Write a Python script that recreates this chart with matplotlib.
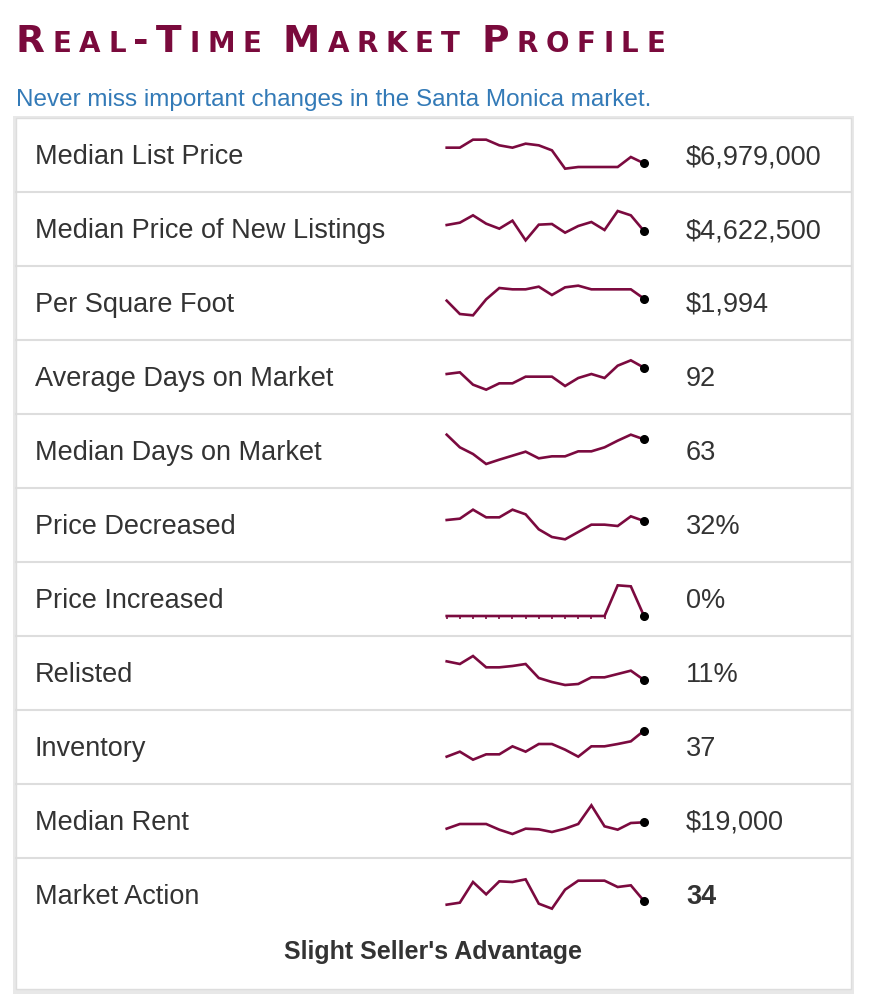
import matplotlib
matplotlib.use("Agg")
import matplotlib.pyplot as plt
from matplotlib.patches import Rectangle

labels = ["Median List Price", "Median Price of New Listings", "Per Square Foot",
          "Average Days on Market", "Median Days on Market", "Price Decreased",
          "Price Increased", "Relisted", "Inventory", "Median Rent", "Market Action"]
values_text = ["$6,979,000", "$4,622,500", "$1,994", "92", "63", "32%", "0%",
               "11%", "37", "$19,000", "34"]
series = [
    [73,73,97,97,80,73,85,80,65,10,15,15,15,15,45,26],
    [63,70,92,67,52,76,17,64,66,40,60,72,48,105,92,45],
    [58,18,14,62,96,92,92,100,75,98,103,92,92,92,92,64],
    [60,65,28,13,32,32,52,52,52,24,48,60,48,85,101,79],
    [100,62,42,12,25,37,49,29,35,35,50,50,62,82,100,86],
    [66,70,97,74,74,97,83,38,15,8,30,52,52,48,77,63],
    [0,0,0,0,0,0,0,0,0,0,0,0,0,92,89,0],
    [86,78,102,68,68,72,78,36,24,15,18,38,38,48,58,30],
    [22,37,13,29,29,53,37,60,60,43,22,53,53,60,68,100],
    [28,42,42,42,25,12,28,26,18,28,42,98,35,25,45,47],
    [22,28,90,53,92,90,98,25,10,67,94,94,94,75,80,33],
]
title = "Real-Time Market Profile"
subtitle = "Never miss important changes in the Santa Monica market."
footer = "Slight Seller's Advantage"

W, H = 878, 1004
fig = plt.figure(figsize=(W/100, H/100), dpi=100)
base = fig.add_axes([0, 0, 1, 1])
base.set_xlim(0, W); base.set_ylim(H, 0); base.axis("off")
FONT = "Liberation Sans"

# panel
base.add_patch(Rectangle((13, 117), 841, 878, facecolor="#e8e8e8", edgecolor="none", zorder=0))
base.add_patch(Rectangle((16, 119), 835, 871, facecolor="white", edgecolor="#dddddd", lw=1, zorder=1))

# title in small caps, spread to reference width
renderer = fig.canvas.get_renderer()
tc = "#7a0a3c"
texts, widths = [], []
for ch in title:
    big = ch.isupper() or ch == "-"
    t = base.text(0, 52, ch.upper(), fontsize=27 if big else 20, color=tc,
                  fontfamily="DejaVu Sans", fontweight="bold", va="baseline", ha="left")
    w = t.get_window_extent(renderer).width if ch != " " else 6
    texts.append(t); widths.append(w)
gap = (665 - 16 - sum(widths)) / (len(title) - 1)
x = 16
for t, w in zip(texts, widths):
    t.set_x(x)
    x += w + gap

base.text(16, 100, subtitle, fontsize=17.5, color="#337ab7", va="center", ha="left", fontfamily=FONT)

row_top0, stride = 119, 74
line_color = "#7b0a3f"
for i, (lab, val, s) in enumerate(zip(labels, values_text, series)):
    top = row_top0 + i * stride
    if i > 0:
        base.plot([16, 851], [top, top], color="#dddddd", lw=1.5, zorder=2)
    base.text(35, top + 38, lab, fontsize=19.5, color="#333333", va="center", ha="left",
              zorder=3, fontfamily=FONT)
    base.text(686, top + 38, val, fontsize=19.5, color="#333333", va="center", ha="left",
              fontweight="bold" if i == len(labels) - 1 else "normal", zorder=3, fontfamily=FONT)
    y0 = top + 54
    hpx = 110 / 3
    ax = fig.add_axes([446.7 / W, (H - y0) / H, 197.3 / W, hpx / H])
    ax.set_xlim(0, len(s) - 1); ax.set_ylim(0, 110); ax.axis("off")
    xs = list(range(len(s)))
    ax.plot(xs, s, color=line_color, lw=1.9, clip_on=False, solid_joinstyle="miter")
    ax.plot([xs[-1]], [s[-1]], "o", color="black", ms=5.5, clip_on=False)
    if i == 6:
        zx = [xx for xx, v in zip(xs, s) if v == 0][:-1]
        ax.plot(zx, [-2] * len(zx), "|", color=line_color, ms=3, mew=1.2, clip_on=False)

base.text(433, 952, footer, fontsize=18, fontweight="bold", color="#333333", ha="center",
          va="center", fontfamily=FONT)
fig.savefig("out.png", dpi=100)
